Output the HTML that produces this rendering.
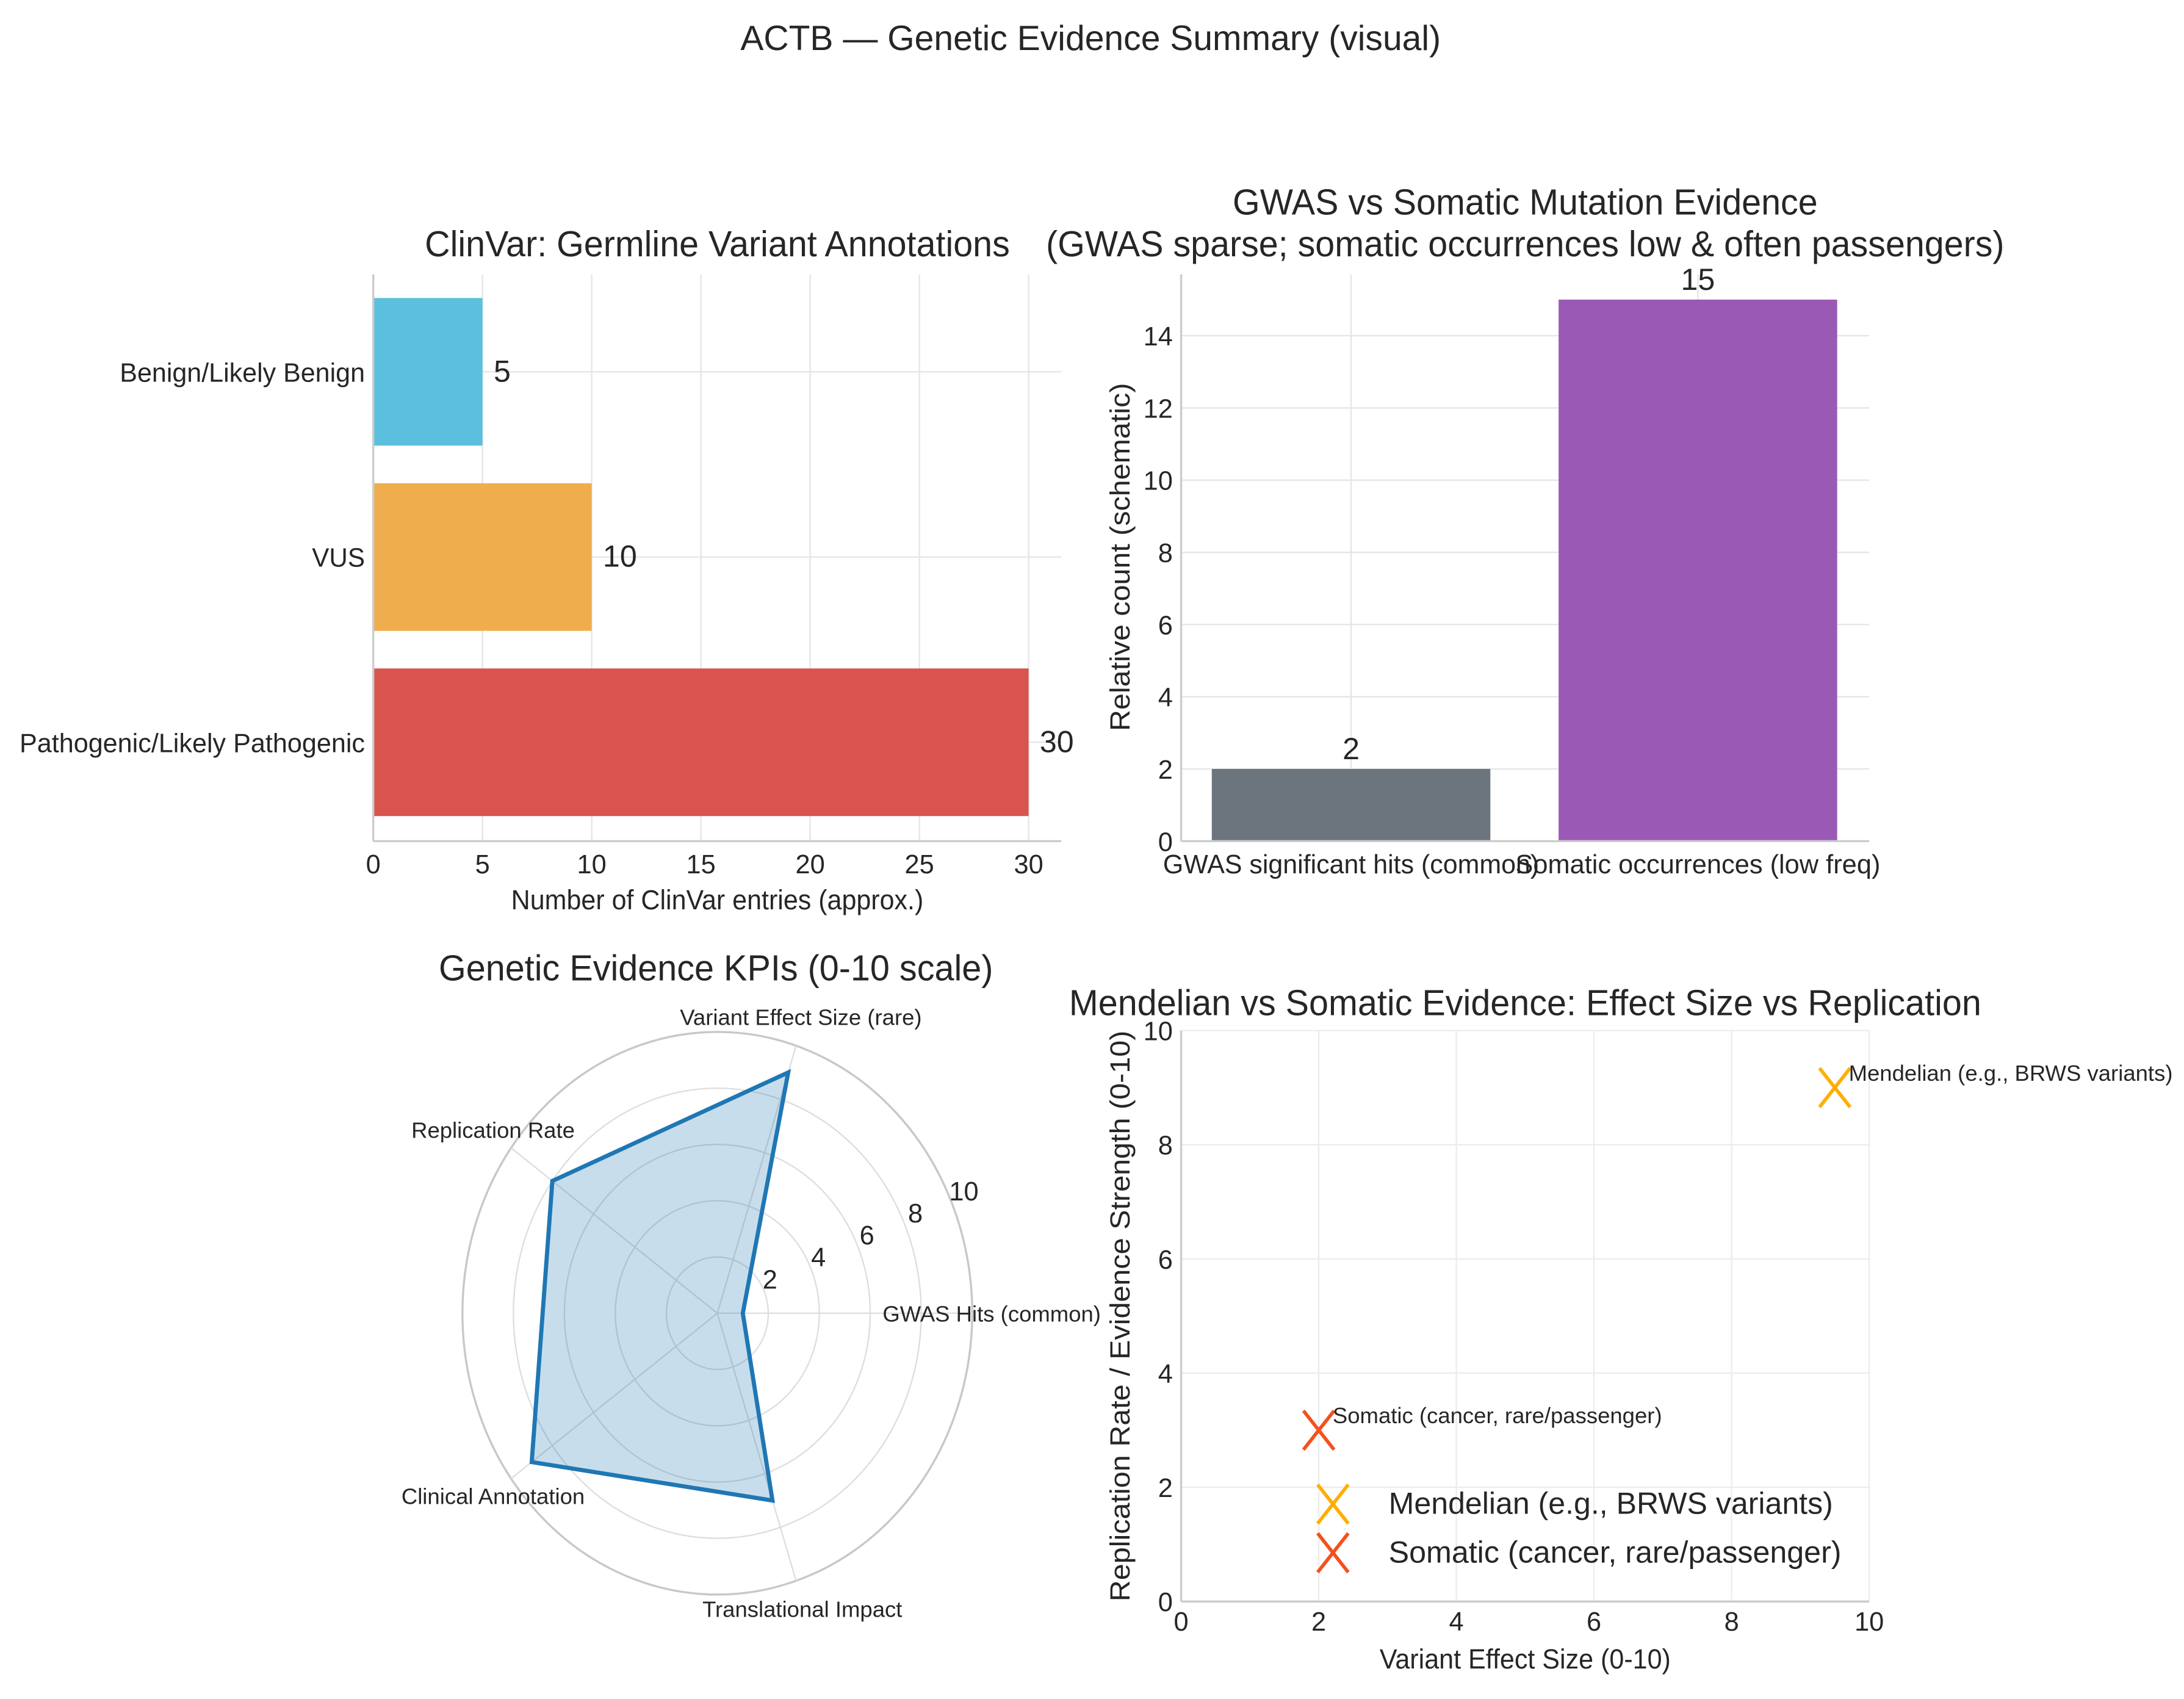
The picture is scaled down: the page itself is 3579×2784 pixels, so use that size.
<!DOCTYPE html>
<html><head><meta charset="utf-8"><style>
html,body{margin:0;padding:0;background:#fff}
svg{display:block}
text{font-family:"Liberation Sans",sans-serif;fill:#262626}
</style></head><body>
<svg id="fig" width="3579" height="2784" viewBox="0 0 1568 1220" preserveAspectRatio="none" xmlns="http://www.w3.org/2000/svg">
<rect width="1568" height="1220" fill="#fff"/>
<text x="783" y="36" font-size="25" text-anchor="middle">ACTB — Genetic Evidence Summary (visual)</text>
<g id="p1"></g>
<g id="p2"></g>
<g id="p3"></g>
<g id="p4"></g>
</svg>
<script>
// ---- data ----
const clinCats = ["Benign/Likely Benign","VUS","Pathogenic/Likely Pathogenic"];
const clinVals = [5,10,30];
const clinTicks = [0,5,10,15,20,25,30];
const gwCats = ["GWAS significant hits (common)","Somatic occurrences (low freq)"];
const gwVals = [2,15];
const gwTicks = [0,2,4,6,8,10,12,14];
const kpiCats = ["GWAS Hits (common)","Variant Effect Size (rare)","Replication Rate","Clinical Annotation","Translational Impact"];
const kpiVals = [1,9,8,9,7];
const kpiTicks = [2,4,6,8,10];
const scNames = ["Mendelian (e.g., BRWS variants)","Somatic (cancer, rare/passenger)"];
const scX = [9.5,2];
const scY = [9,3];
const scTicks = [0,2,4,6,8,10];

const NS="http://www.w3.org/2000/svg";
function mk(parent,tag,attrs,txt){const e=document.createElementNS(NS,tag);for(const k in attrs)e.setAttribute(k,attrs[k]);if(txt!==undefined)e.textContent=txt;parent.appendChild(e);return e;}
const grid="#e5e5e5", spine="#cccccc";

// ---- Panel 1 ----
(function(){
 const g=document.getElementById('p1');
 const L=268,R=762,T=197,B=604, xmax=31.5;
 const xs=v=>L+v*(R-L)/xmax;
 const band=133, ys=i=>267+i*band;
 const colors=["#5bc0de","#f0ad4e","#d9534f"];
 clinTicks.forEach(t=>{
  const l=mk(g,'line',{x1:xs(t),x2:xs(t),y1:T,y2:B,stroke:grid,'stroke-width':1});
  
  const tx=mk(g,'text',{x:xs(t),y:627,'font-size':19,'text-anchor':'middle'},t);
  
 });
 clinCats.forEach((c,i)=>{
  const gl=mk(g,'line',{x1:L,x2:R,y1:ys(i),y2:ys(i),stroke:grid,'stroke-width':1});
  
  const r=mk(g,'rect',{x:L,y:ys(i)-53,width:xs(clinVals[i])-L,height:106,fill:colors[i]});
  
  const lb=mk(g,'text',{x:xs(clinVals[i])+8,y:ys(i)+7,'font-size':22},clinVals[i]);
  
  const yl=mk(g,'text',{x:262,y:ys(i)+7,'font-size':19,'text-anchor':'end',textLength:c.length>10?(i==0?176:248):38,lengthAdjust:'spacingAndGlyphs'},c);
  
 });
 mk(g,'line',{x1:L,x2:L,y1:T,y2:B,stroke:spine,'stroke-width':1.5,});
 mk(g,'line',{x1:L,x2:R,y1:B,y2:B,stroke:spine,'stroke-width':1.5,});
 mk(g,'text',{x:(L+R)/2,y:653,'font-size':20,'text-anchor':'middle',textLength:296,lengthAdjust:'spacingAndGlyphs',},"Number of ClinVar entries (approx.)");
 mk(g,'text',{x:515,y:184,'font-size':26,'text-anchor':'middle',textLength:420,lengthAdjust:'spacingAndGlyphs',},"ClinVar: Germline Variant Annotations");
})();

// ---- Panel 2 ----
(function(){
 const g=document.getElementById('p2');
 const L=848,R=1342,T=197,B=604, ymax=15.7;
 const ys=v=>B-v*(B-T)/ymax;
 const xc=[970,1219], colors=["#6c757d","#9b59b6"];
 gwTicks.forEach(t=>{
  const l=mk(g,'line',{x1:L,x2:R,y1:ys(t),y2:ys(t),stroke:grid,'stroke-width':1});
  
  const tx=mk(g,'text',{x:842,y:ys(t)+7,'font-size':19,'text-anchor':'end'},t);
  
 });
 gwCats.forEach((c,i)=>{
  const gl=mk(g,'line',{x1:xc[i],x2:xc[i],y1:T,y2:B,stroke:grid,'stroke-width':1});
  
  const r=mk(g,'rect',{x:xc[i]-100,y:ys(gwVals[i]),width:200,height:B-ys(gwVals[i]),fill:colors[i]});
  
  const lb=mk(g,'text',{x:xc[i],y:ys(gwVals[i])-7,'font-size':22,'text-anchor':'middle'},gwVals[i]);
  
  const xl=mk(g,'text',{x:xc[i],y:627,'font-size':19,'text-anchor':'middle',textLength:i?262:270,lengthAdjust:'spacingAndGlyphs'},c);
  
 });
 mk(g,'line',{x1:L,x2:L,y1:T,y2:B,stroke:spine,'stroke-width':1.5,});
 mk(g,'line',{x1:L,x2:R,y1:B,y2:B,stroke:spine,'stroke-width':1.5,});
 mk(g,'text',{x:0,y:0,'font-size':20,'text-anchor':'middle',textLength:250,lengthAdjust:'spacingAndGlyphs',transform:'translate(811,400) rotate(-90)',},"Relative count (schematic)");
 mk(g,'text',{x:1095,y:154,'font-size':26,'text-anchor':'middle',textLength:420,lengthAdjust:'spacingAndGlyphs',},"GWAS vs Somatic Mutation Evidence");
 mk(g,'text',{x:1095,y:184,'font-size':26,'text-anchor':'middle',textLength:688,lengthAdjust:'spacingAndGlyphs',},"(GWAS sparse; somatic occurrences low & often passengers)");
})();

// ---- Panel 3 ----
(function(){
 const g=document.getElementById('p3');
 const cx=515,cy=943, sx=18.3, sy=20.2;
 const pt=(v,i)=>{const a=i*2*Math.PI/kpiCats.length;return [cx+v*sx*Math.cos(a),cy-v*sy*Math.sin(a)];};
 kpiTicks.forEach(t=>{
  const e=mk(g,'ellipse',{cx:cx,cy:cy,rx:t*sx,ry:t*sy,fill:'none',stroke:t===10?'#c8c8c8':'#dddddd','stroke-width':t===10?1.5:1});
  
 });
 kpiCats.forEach((c,i)=>{
  const p=pt(10,i);
  const sp=mk(g,'line',{x1:cx,y1:cy,x2:p[0],y2:p[1],stroke:'#dddddd','stroke-width':1});
  
 });
 kpiTicks.forEach(t=>{
  const tx=mk(g,'text',{x:cx+3+17.4*t,y:cy-9-7.9*t+7,'font-size':19,'text-anchor':'middle'},t);
  
 });
 const pts=kpiVals.map((v,i)=>pt(v,i).join(',')).join(' ');
 mk(g,'polygon',{points:pts,fill:'#1f77b4','fill-opacity':0.25,stroke:'none',});
 mk(g,'polygon',{points:pts,fill:'none',stroke:'#1f77b4','stroke-width':3,'stroke-linejoin':'miter',});
 const labs=[[712,949],[575,736],[354,817],[354,1080],[576,1161]];
 kpiCats.forEach((c,i)=>{
  const t=mk(g,'text',{x:labs[i][0],y:labs[i][1],'font-size':16,'text-anchor':'middle'},c);
  
 });
 mk(g,'text',{x:514,y:704,'font-size':26,'text-anchor':'middle',textLength:398,lengthAdjust:'spacingAndGlyphs',},"Genetic Evidence KPIs (0-10 scale)");
})();

// ---- Panel 4 ----
(function(){
 const g=document.getElementById('p4');
 const L=848,R=1342,T=740,B=1150;
 const xs=v=>L+v*(R-L)/10, ys=v=>B-v*(B-T)/10;
 const colors=["#ffae00","#f4511e"];
 scTicks.forEach(t=>{
  const a=mk(g,'line',{x1:xs(t),x2:xs(t),y1:T,y2:B,stroke:'#ececec','stroke-width':1});
  
  const b=mk(g,'line',{x1:L,x2:R,y1:ys(t),y2:ys(t),stroke:'#ececec','stroke-width':1});
  
  const tx=mk(g,'text',{x:xs(t),y:1171,'font-size':19,'text-anchor':'middle'},t);
  
  const ty=mk(g,'text',{x:842,y:ys(t)+7,'font-size':19,'text-anchor':'end'},t);
  
 });
 mk(g,'line',{x1:L,x2:L,y1:T,y2:B,stroke:spine,'stroke-width':1.5,});
 mk(g,'line',{x1:L,x2:R,y1:B,y2:B,stroke:spine,'stroke-width':1.5,});
 function cross(x,y,c,name){
  const p=mk(g,'path',{d:`M${x-11},${y-14}L${x+11},${y+14}M${x+11},${y-14}L${x-11},${y+14}`,stroke:c,'stroke-width':2.5,fill:'none'});
  
 }
 scNames.forEach((n,i)=>{
  const x=xs(scX[i]),y=ys(scY[i]);
  cross(x,y,colors[i],i?'point-somatic':'point-mendelian');
  const t=mk(g,'text',{x:x+10,y:y-5,'font-size':16},n);
  
  cross(957,1080+i*35,colors[i],'legend-marker');
  const lt=mk(g,'text',{x:997,y:1087+i*35,'font-size':22,textLength:i?325:319,lengthAdjust:'spacingAndGlyphs'},n);
  
 });
 mk(g,'text',{x:(L+R)/2,y:1198,'font-size':20,'text-anchor':'middle',textLength:209,lengthAdjust:'spacingAndGlyphs',},"Variant Effect Size (0-10)");
 mk(g,'text',{x:0,y:0,'font-size':20,'text-anchor':'middle',textLength:410,lengthAdjust:'spacingAndGlyphs',transform:'translate(811,945) rotate(-90)',},"Replication Rate / Evidence Strength (0-10)");
 mk(g,'text',{x:1095,y:729,'font-size':26,'text-anchor':'middle',textLength:655,lengthAdjust:'spacingAndGlyphs',},"Mendelian vs Somatic Evidence: Effect Size vs Replication");
})();
</script>
</body></html>
